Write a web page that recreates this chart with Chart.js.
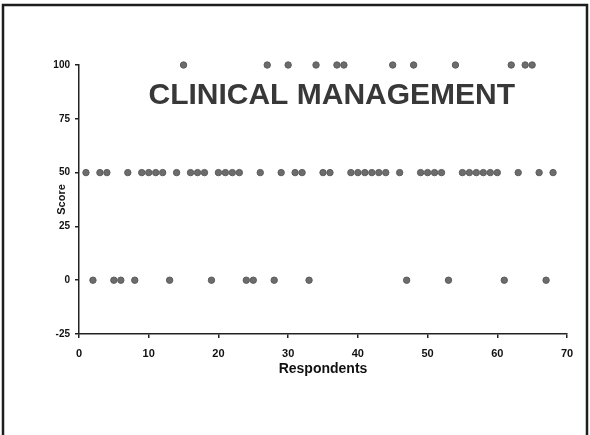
<!DOCTYPE html>
<html>
<head>
<meta charset="utf-8">
<script src="https://cdn.jsdelivr.net/npm/chart.js@4.4.1/dist/chart.umd.min.js"></script>
<style>
  html, body { margin: 0; padding: 0; background: #fff; }
  #wrap { width: 590px; height: 435px; position: relative; }
</style>
</head>
<body>
<div id="wrap"><canvas id="myChart" width="590" height="435"></canvas></div>
<script>
// Respondent numbers for each score level
const score100 = [15, 27, 30, 34, 37, 38, 45, 48, 54, 62, 64, 65];
const score50 = [1, 3, 4, 7, 9, 10, 11, 12, 14, 16, 17, 18, 20, 21, 22, 23, 26, 29, 31, 32,
  35, 36, 39, 40, 41, 42, 43, 44, 46, 49, 50, 51, 52, 55, 56, 57, 58, 59, 60, 63, 66, 68];
const score0 = [2, 5, 6, 8, 13, 19, 24, 25, 28, 33, 47, 53, 61, 67];

// Axis ticks
const xTicks = [0, 10, 20, 30, 40, 50, 60, 70];
const yTicks = [-25, 0, 25, 50, 75, 100];

const chartTitle = 'CLINICAL MANAGEMENT';

// Build point list for the scatter dataset
function toPoints(list, score) {
  return list.map(function (r) { return { x: r, y: score }; });
}
const points = [].concat(toPoints(score100, 100), toPoints(score50, 50), toPoints(score0, 0));

// Frame round the slide and the title inside the plot
const decorPlugin = {
  id: 'decor',
  beforeDraw(chart) {
    const c = chart.ctx;
    c.save();
    c.strokeStyle = '#1e1e1e';
    c.lineWidth = 2.5;
    c.beginPath();
    c.moveTo(3, 440);
    c.lineTo(3, 5);
    c.lineTo(587, 5);
    c.lineTo(587, 440);
    c.stroke();
    c.restore();
  },
  afterDraw(chart) {
    const c = chart.ctx;
    const a = chart.chartArea;
    c.save();
    c.fillStyle = '#383838';
    c.font = 'bold 30px "Liberation Sans", Arial, sans-serif';
    c.textAlign = 'center';
    c.textBaseline = 'middle';
    c.fillText(chartTitle, a.left + (a.right - a.left) * 0.518, chart.scales.y.getPixelForValue(85.5));
    c.restore();
  }
};

const ctx = document.getElementById('myChart').getContext('2d');
const myChart = new Chart(ctx, {
  type: 'scatter',
  data: {
    datasets: [{
      data: points,
      backgroundColor: '#6c6c6c',
      borderColor: '#5c5c5c',
      borderWidth: 1,
      pointRadius: 3.2,
      clip: false
    }]
  },
  options: {
    responsive: false,
    animation: false,
    layout: { padding: { left: 50, top: 65, right: 23, bottom: 56 } },
    plugins: {
      legend: { display: false },
      tooltip: { enabled: false }
    },
    scales: {
      x: {
        type: 'linear',
        min: xTicks[0],
        max: xTicks[xTicks.length - 1],
        afterBuildTicks(scale) {
          scale.ticks = xTicks.map(function (v) { return { value: v }; });
        },
        afterFit(scale) { scale.height = 45; },
        grid: { drawOnChartArea: false, color: '#222', tickLength: 4, lineWidth: 1.5 },
        border: { color: '#222', width: 1.5 },
        ticks: {
          color: '#111',
          padding: 9,
          maxRotation: 0,
          font: { family: '"Liberation Sans", Arial, sans-serif', size: 11, weight: 'bold' }
        },
        title: {
          display: true,
          text: 'Respondents',
          color: '#111',
          padding: { top: 0, bottom: 1 },
          font: { family: '"Liberation Sans", Arial, sans-serif', size: 14, weight: 'bold' }
        }
      },
      y: {
        type: 'linear',
        min: yTicks[0],
        max: yTicks[yTicks.length - 1],
        afterBuildTicks(scale) {
          scale.ticks = yTicks.map(function (v) { return { value: v }; });
        },
        afterFit(scale) { scale.width = 29; },
        grid: { drawOnChartArea: false, color: '#222', tickLength: 4, lineWidth: 1.5 },
        border: { color: '#222', width: 1.5 },
        ticks: {
          color: '#111',
          padding: 5,
          font: { family: '"Liberation Sans", Arial, sans-serif', size: 10, weight: 'bold' }
        },
        title: {
          display: true,
          text: 'Score',
          color: '#111',
          padding: { top: 5, bottom: 0 },
          font: { family: '"Liberation Sans", Arial, sans-serif', size: 11, weight: 'bold' }
        }
      }
    }
  },
  plugins: [decorPlugin]
});
</script>
</body>
</html>
